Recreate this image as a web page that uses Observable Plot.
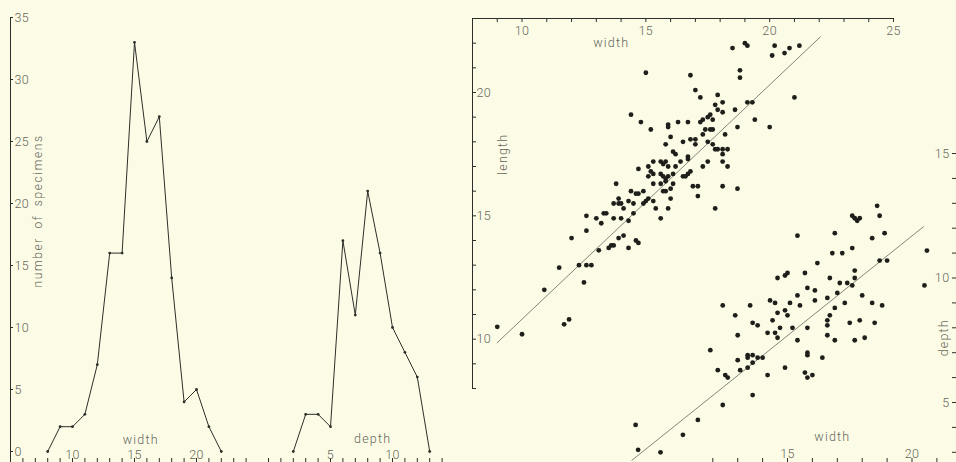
<!DOCTYPE html>
<html>
<head>
<meta charset="utf-8">
<script src="https://cdn.jsdelivr.net/npm/d3@7"></script>
<script src="https://cdn.jsdelivr.net/npm/@observablehq/plot@0.6"></script>
<style>
  html, body { margin: 0; padding: 0; background: #fcfce6; }
  #fig { position: relative; width: 956px; height: 462px; overflow: hidden; background: #fcfce6; }
  #fig svg { position: absolute; left: 0; top: 0; background: none !important; overflow: visible; }
  #fig text { font-weight: 300; letter-spacing: 0.4px; }
</style>
</head>
<body>
<div id="fig"></div>
<script>
// Frequency polygons: number of specimens per width class and per depth class
const widthClasses = [8, 9, 10, 11, 12, 13, 14, 15, 16, 17, 18, 19, 20, 21, 22];
const widthCounts  = [0, 2, 2, 3, 7, 16, 16, 33, 25, 27, 14, 4, 5, 2, 0];
const depthClasses = [2, 3, 4, 5, 6, 7, 8, 9, 10, 11, 12, 13];
const depthCounts  = [0, 3, 3, 2, 17, 11, 21, 16, 10, 8, 6, 0];

// Tick values and labels
const countTicks = [0, 5, 10, 15, 20, 25, 30, 35];
const widthClassTicks = d3.range(5, 25);
const depthClassTicks = d3.range(0, 15);
const widthClassLabels = [10, 15, 20];
const depthClassLabels = [5, 10];
const topWidthTicks = d3.range(8, 26);
const topWidthLabels = [10, 15, 20, 25];
const lengthTicks = d3.range(8, 24);
const lengthLabels = [10, 15, 20];
const bottomWidthTicks = d3.range(12, 22);
const bottomWidthLabels = [15, 20];
const depthTicks = d3.range(3, 16);
const depthLabels = [5, 10, 15];

// Individual specimens: [width, length]
const lengthVsWidth = [
  [15.0,20.8],[16.8,20.7],[17.0,20.1],[17.2,19.8],[14.4,19.1],[14.8,18.8],[15.2,18.5],[15.9,18.7],[15.9,18.6],[16.3,18.8],
  [16.7,18.8],[17.2,18.8],[17.3,18.9],[17.5,19.0],[17.6,19.1],[17.7,18.9],[17.4,18.5],[17.6,18.5],[17.7,18.5],[17.3,18.3],
  [18.2,18.3],[16.0,18.2],[16.5,18.0],[16.8,18.1],[17.0,18.1],[17.0,17.9],[17.5,18.0],[15.8,17.9],[17.7,17.9],[17.8,17.7],
  [17.9,17.7],[18.1,17.5],[18.1,17.7],[18.3,17.7],[16.1,17.6],[16.2,17.5],[16.7,17.4],[16.7,17.3],[16.4,17.2],[16.2,17.0],
  [17.5,17.2],[18.1,17.2],[18.3,17.0],[17.3,17.0],[15.3,17.2],[15.6,17.2],[15.7,17.1],[15.8,17.2],[15.9,17.0],[14.7,16.9],
  [15.1,17.0],[15.2,16.8],[15.1,16.6],[15.3,16.7],[15.6,16.7],[15.7,16.6],[15.8,16.5],[15.9,16.6],[16.1,16.7],[16.5,16.6],
  [16.7,16.7],[16.8,16.8],[16.6,16.6],[16.1,16.3],[15.3,16.3],[15.6,16.3],[15.8,16.4],[16.9,16.2],[17.1,16.2],[18.1,16.2],
  [18.7,16.1],[17.1,15.8],[13.8,16.3],[14.4,16.0],[14.6,15.9],[14.7,15.9],[14.9,16.0],[15.7,16.0],[15.8,16.0],[16.0,15.7],
  [15.1,15.7],[13.9,15.7],[18.5,21.8],[19.0,22.0],[19.1,21.9],[20.2,21.9],[20.1,21.5],[20.6,21.6],[20.8,21.8],[21.2,21.9],
  [18.8,20.9],[18.8,20.6],[21.0,19.8],[19.1,19.6],[19.3,19.6],[17.9,19.9],[17.8,19.5],[18.1,19.6],[17.9,19.3],[18.1,19.2],
  [18.6,19.3],[19.4,18.9],[20.0,18.6],[18.7,18.6],[17.8,15.3],[15.9,15.3],[15.4,15.3],[15.6,14.9],[15.3,15.6],[15.0,15.6],
  [14.5,15.5],[14.9,15.5],[14.3,15.6],[13.9,15.5],[14.0,15.5],[13.7,15.5],[14.1,15.3],[13.7,14.9],[14.0,14.9],[14.3,14.8],
  [14.5,15.1],[12.6,15.0],[13.0,14.9],[13.2,14.7],[13.3,15.1],[13.4,15.1],[12.6,14.4],[14.1,14.2],[14.6,14.0],[14.7,13.9],
  [13.9,14.1],[13.6,13.8],[13.7,13.8],[13.5,13.7],[14.3,13.7],[13.1,13.6],[12.0,14.1],[12.6,13.0],[12.3,13.0],[12.8,13.0],
  [11.5,12.9],[12.5,12.3],[10.9,12.0],[11.9,10.8],[11.7,10.6],[10.0,10.2],[9.0,10.5],[16.0,16.1]
];

// Individual specimens: [width, depth]
const depthVsWidth = [
  [18.6,12.9],[18.7,12.5],[17.6,12.5],[17.7,12.4],[17.8,12.3],[17.9,12.4],[15.4,11.7],[16.9,11.8],[18.4,11.6],[18.9,11.8],
  [20.6,11.1],[16.8,11.0],[17.2,11.0],[17.6,11.2],[16.2,10.6],[18.7,10.7],[19.0,10.7],[20.5,9.7],[14.6,10.0],[14.9,10.1],
  [15.0,10.2],[15.7,10.2],[16.7,10.0],[17.1,9.8],[17.4,9.8],[17.6,9.7],[17.7,10.3],[17.7,10.0],[15.8,9.6],[16.1,9.5],
  [15.4,9.3],[18.0,9.3],[17.0,9.4],[16.6,9.2],[14.3,9.1],[14.5,9.0],[15.1,9.0],[15.5,8.9],[16.1,9.1],[17.3,9.0],
  [18.4,9.0],[18.8,8.9],[12.4,8.9],[12.9,8.5],[13.5,8.9],[14.6,8.6],[14.9,8.7],[15.0,8.5],[16.9,8.8],[16.7,8.5],
  [14.4,8.3],[13.6,8.2],[13.8,8.1],[16.6,8.3],[16.6,8.1],[17.5,8.2],[17.9,8.3],[18.5,8.2],[14.7,8.0],[15.2,8.0],
  [15.8,8.0],[14.2,7.8],[14.5,7.8],[14.6,7.6],[13.0,7.7],[15.4,7.5],[16.6,7.7],[16.9,7.5],[17.7,7.5],[18.1,7.6],
  [11.9,7.1],[13.0,6.7],[13.4,6.8],[13.4,6.9],[13.6,6.9],[13.8,6.8],[14.0,6.8],[13.6,6.6],[15.8,7.0],[15.8,6.9],
  [16.4,6.8],[12.2,6.3],[12.5,6.1],[12.6,6.0],[13.1,6.3],[13.4,6.4],[14.9,6.4],[15.7,6.2],[15.8,6.0],[16.0,6.1],
  [14.2,6.1],[13.6,5.3],[12.4,4.9],[11.4,4.3],[10.8,3.7],[8.9,4.1],[9.0,3.1],[9.9,3.0]
];

// Fitted straight lines: value = intercept + slope * width, drawn over [from, to]
const lengthFit = {intercept: 1.31, slope: 0.95, from: 9.0, to: 22.05};
const depthFit  = {intercept: -4.33, slope: 0.801, from: 8.75, to: 20.46};

const W = 956, H = 462;
const INK = "#2e2e2a";
const TEXT = "#66665c";
const FIT = "#85857a";
const base = {
  width: W, height: H,
  style: "background:none;overflow:visible;font-family:Roboto,'DejaVu Sans',sans-serif;font-size:12px;color:#66665c;"
};
const fig = document.getElementById("fig");
const fitLine = f => [f.from, f.to].map(w => ({w, v: f.intercept + f.slope * w}));
const rows = (xs, ys) => xs.map((x, i) => ({x, y: ys[i]}));
const tickText = {tickSize: 0, tickPadding: 0, label: null, fill: TEXT, fontSize: 12.5};

function spread(svg, label, spacing, wordSpacing) {
  d3.select(svg).selectAll("text")
    .filter(function () { return this.textContent === label; })
    .style("letter-spacing", spacing + "px")
    .style("word-spacing", (wordSpacing || 0) + "px");
}

// --- Frequency polygon for width, with the count axis ---
{
  const mL = 10, mR = W - 246, mT = 17, mB = 0;
  const fw = W - mL - mR, fh = H - mT - mB;
  const widthRows = rows(widthClasses, widthCounts);
  const svg = Plot.plot({
    ...base,
    marginLeft: mL, marginRight: mR, marginTop: mT, marginBottom: mB,
    x: {domain: [5, 24], range: [10, 245.6], axis: null},
    y: {domain: [0, 35], range: [451, 17], axis: null},
    marks: [
      Plot.ruleX([5], {stroke: INK, strokeWidth: 1}),
      Plot.tickY(countTicks, {y: d => d, stroke: INK, insetRight: fw - 3}),
      Plot.axisY(countTicks, {anchor: "left", ...tickText, textAnchor: "start", dx: 4}),
      Plot.tickX(widthClassTicks, {x: d => d, stroke: INK, insetTop: fh - 4}),
      Plot.axisX(widthClassLabels, {anchor: "bottom", ...tickText, dy: -12}),
      Plot.line(widthRows, {x: "x", y: "y", stroke: INK, strokeWidth: 1}),
      Plot.dot(widthRows, {x: "x", y: "y", r: 1.4, fill: INK}),
      Plot.text(["width"], {x: 15.5, y: 0.95, text: d => d, fill: TEXT, fontSize: 12.5}),
      Plot.text(["number of specimens"], {x: 7.25, y: 19.4, text: d => d, rotate: -90, fill: TEXT, fontSize: 12})
    ]
  });
  spread(svg, "number of specimens", 1.6, 4);
  spread(svg, "width", 1.2);
  fig.append(svg);
}

// --- Frequency polygon for depth ---
{
  const mL = 268, mR = W - 442, mT = 17, mB = 0;
  const fh = H - mT - mB;
  const depthRows = rows(depthClasses, depthCounts);
  const svg = Plot.plot({
    ...base,
    marginLeft: mL, marginRight: mR, marginTop: mT, marginBottom: mB,
    x: {domain: [0, 14], range: [268, 441.6], axis: null},
    y: {domain: [0, 35], range: [451, 17], axis: null},
    marks: [
      Plot.tickX(depthClassTicks, {x: d => d, stroke: INK, insetTop: fh - 4}),
      Plot.axisX(depthClassLabels, {anchor: "bottom", ...tickText, dy: -12}),
      Plot.line(depthRows, {x: "x", y: "y", stroke: INK, strokeWidth: 1}),
      Plot.dot(depthRows, {x: "x", y: "y", r: 1.4, fill: INK}),
      Plot.text(["depth"], {x: 8.4, y: 1.0, text: d => d, fill: TEXT, fontSize: 12.5})
    ]
  });
  spread(svg, "depth", 1.2);
  fig.append(svg);
}

// --- Length against width ---
{
  const mL = 472, mR = W - 893, mT = 18, mB = H - 388;
  const fw = W - mL - mR, fh = H - mT - mB;
  const svg = Plot.plot({
    ...base,
    marginLeft: mL, marginRight: mR, marginTop: mT, marginBottom: mB,
    x: {domain: [8, 25], axis: null},
    y: {domain: [8, 23], axis: null},
    marks: [
      Plot.ruleY([23], {stroke: INK}),
      Plot.ruleX([8], {stroke: INK}),
      Plot.tickX(topWidthTicks, {x: d => d, stroke: INK, insetBottom: fh - 4}),
      Plot.tickY(lengthTicks, {y: d => d, stroke: INK, insetRight: fw - 4}),
      Plot.axisX(topWidthLabels, {anchor: "top", ...tickText, dy: 16}),
      Plot.axisY(lengthLabels, {anchor: "left", ...tickText, textAnchor: "start", dx: 4}),
      Plot.line(fitLine(lengthFit), {x: "w", y: "v", stroke: FIT, strokeWidth: 1}),
      Plot.dot(lengthVsWidth, {x: d => d[0], y: d => d[1], r: 2.4, fill: "#1e1e1a"}),
      Plot.text(["width"], {x: 13.6, y: 22.0, text: d => d, fill: TEXT, fontSize: 12.5}),
      Plot.text(["length"], {x: 9.25, y: 17.5, text: d => d, rotate: -90, fill: TEXT, fontSize: 12.5})
    ]
  });
  spread(svg, "width", 1.2);
  spread(svg, "length", 1.2);
  fig.append(svg);
}

// --- Depth against width ---
{
  const mL = 600, mR = 0, mT = 150, mB = 0;
  const fw = W - mL - mR, fh = H - mT - mB;
  const svg = Plot.plot({
    ...base,
    marginLeft: mL, marginRight: mR, marginTop: mT, marginBottom: mB,
    x: {domain: [15, 20], range: [787, 911.5], axis: null},
    y: {domain: [5, 15], range: [402, 153], axis: null},
    marks: [
      Plot.tickX(bottomWidthTicks, {x: d => d, stroke: INK, insetTop: fh - 4}),
      Plot.tickY(depthTicks, {y: d => d, stroke: INK, insetLeft: fw - 4}),
      Plot.axisX(bottomWidthLabels, {anchor: "bottom", ...tickText, dy: -13}),
      Plot.axisY(depthLabels, {anchor: "right", ...tickText, textAnchor: "end", dx: -7}),
      Plot.line(fitLine(depthFit), {x: "w", y: "v", stroke: FIT, strokeWidth: 1}),
      Plot.dot(depthVsWidth, {x: d => d[0], y: d => d[1], r: 2.4, fill: "#1e1e1a"}),
      Plot.text(["width"], {x: 16.8, y: 3.6, text: d => d, fill: TEXT, fontSize: 12.5}),
      Plot.text(["depth"], {x: 21.27, y: 7.6, text: d => d, rotate: -90, fill: TEXT, fontSize: 12.5})
    ]
  });
  spread(svg, "width", 1.2);
  spread(svg, "depth", 1.2);
  fig.append(svg);
}
</script>
</body>
</html>
